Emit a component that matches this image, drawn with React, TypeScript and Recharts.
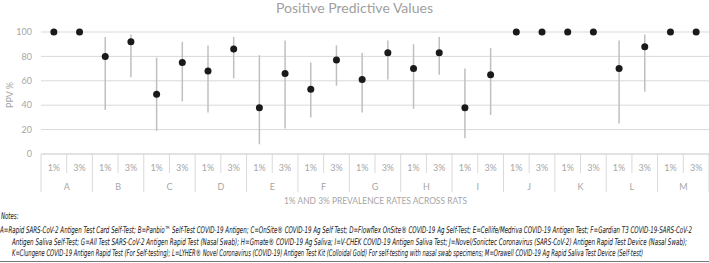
import { ComposedChart, Line, XAxis, YAxis, CartesianGrid, ErrorBar } from "recharts";

// groups (rapid antigen tests) and the two prevalence rates
const groups = ["A", "B", "C", "D", "E", "F", "G", "H", "I", "J", "K", "L", "M"];
const rates = ["1%", "3%"];

// PPV and the interval bounds, per group, at 1% and 3% prevalence
const ppvAt1 = [100, 80, 49, 68, 38, 53, 61, 70, 38, 100, 100, 70, 100];
const ppvAt3 = [100, 92, 75, 86, 66, 77, 83, 83, 65, 100, 100, 88, 100];
const lowAt1 = [100, 36, 19, 34, 8, 30, 34, 37, 13, 100, 100, 25, 100];
const lowAt3 = [100, 63, 43, 62, 21, 56, 61, 65, 32, 100, 100, 51, 100];
const highAt1 = [100, 96, 79, 89, 81, 75, 83, 90, 70, 100, 100, 93, 100];
const highAt3 = [100, 98, 92, 96, 93, 89, 93, 96, 87, 100, 100, 98, 100];

const yTicks = [0, 10, 20, 30, 40, 50, 60, 70, 80, 90, 100];

const noteLines = [
  "A=Rapid SARS-CoV-2 Antigen Test Card Self-Test; B=Panbio™ Self-Test COVID-19 Antigen; C=OnSite® COVID-19 Ag Self Test; D=Flowflex OnSite® COVID-19 Ag Self-Test; E=Cellife/Medriva COVID-19 Antigen Test; F=Gardian T3 COVID-19-SARS-CoV-2",
  "Antigen Saliva Self-Test; G=All Test SARS-CoV-2 Antigen Rapid Test (Nasal Swab); H=Gmate® COVID-19 Ag Saliva; I=V-CHEK COVID-19 Antigen Saliva Test; J=Novel/Sonictec Coronavirus (SARS-CoV-2) Antigen Rapid Test Device (Nasal Swab);",
  "K=Clungene COVID-19 Antigen Rapid Test (For Self-testing); L=LYHER® Novel Coronavirus (COVID-19) Antigen Test Kit (Colloidal Gold) For self-testing with nasal swab specimens; M=Orawell COVID-19 Ag Rapid Saliva Test Device (Self-test)",
];

// one row per group/rate, error given as [below, above] deltas
const rows = groups.flatMap((g, i) =>
  rates.map((r, j) => {
    const ppv = j === 0 ? ppvAt1[i] : ppvAt3[i];
    const lo = j === 0 ? lowAt1[i] : lowAt3[i];
    const hi = j === 0 ? highAt1[i] : highAt3[i];
    return { key: g + r, group: g, rate: r, ppv, err: [ppv - lo, hi - ppv] };
  })
);

const W = 709;
const H = 263;
const LEFT = 41;
const TOP = 32;
const AXIS_Y = 154;
const BAND = (W - LEFT) / rows.length;
const FONT = "Lato, 'Open Sans', sans-serif";
const GRID = "#d9d9d9";
const TXT = "#a6a6a6";
const NOTE_SY = 1.5; // notes are set small and stretched up to look condensed

function RateTick(props: any) {
  const { x, index } = props;
  const row = rows[index];
  if (!row) return null;
  const left = x - BAND / 2;
  const first = row.rate === "1%";
  return (
    <g>
      <line x1={left} x2={left} y1={AXIS_Y} y2={first ? AXIS_Y + 38 : AXIS_Y + 19} stroke={GRID} />
      {index === rows.length - 1 && (
        <line x1={x + BAND / 2} x2={x + BAND / 2} y1={AXIS_Y} y2={AXIS_Y + 38} stroke={GRID} />
      )}
      <text x={x} y={AXIS_Y + 17} textAnchor="middle" fontSize={9} fontFamily={FONT} fill={TXT}>
        {row.rate}
      </text>
      {!first && (
        <text x={left} y={AXIS_Y + 36} textAnchor="middle" fontSize={9} fontFamily={FONT} fill={TXT}>
          {row.group}
        </text>
      )}
    </g>
  );
}

export default function App() {
  const noteFont = "'Liberation Sans Narrow', 'DejaVu Sans Condensed', 'Roboto', sans-serif";
  const noteProps = {
    fontSize: 6.1,
    fontStyle: "italic",
    fontFamily: noteFont,
    fill: "#111",
    lengthAdjust: "spacingAndGlyphs",
  } as const;
  return (
    <div style={{ position: "relative", width: W, height: H, background: "#fff" }}>
      <style>{"body{margin:0}"}</style>
      <ComposedChart
        width={W}
        height={H}
        data={rows}
        margin={{ top: TOP, right: 0, left: 0, bottom: H - AXIS_Y - 40 }}
      >
        <CartesianGrid vertical={false} stroke={GRID} />
        <XAxis
          dataKey="key"
          interval={0}
          height={40}
          padding={{ left: BAND / 2, right: BAND / 2 }}
          axisLine={{ stroke: GRID }}
          tickLine={false}
          tick={<RateTick />}
        />
        <YAxis
          domain={[0, 100]}
          ticks={yTicks}
          width={LEFT}
          axisLine={false}
          tickLine={false}
          tickSize={0}
          tickMargin={9}
          tick={{ fill: TXT, fontSize: 9, fontFamily: FONT }}
        />
        <Line
          dataKey="ppv"
          stroke="none"
          dot={{ r: 3.5, fill: "#1a1a1a", stroke: "none" }}
          activeDot={false}
          isAnimationActive={false}
        >
          <ErrorBar dataKey="err" width={0} stroke="#bfbfbf" strokeWidth={1.5} direction="y" />
        </Line>
      </ComposedChart>

      {/* titles and notes */}
      <svg
        width={W}
        height={H}
        style={{ position: "absolute", left: 0, top: 0, pointerEvents: "none" }}
      >
        <text x={276} y={12.5} fontSize={14} fontFamily={FONT} fill="#a0a0a0" textLength={157} lengthAdjust="spacingAndGlyphs">
          Positive Predictive Values
        </text>
        <text
          transform="translate(13,95) rotate(-90)"
          textAnchor="middle"
          fontSize={9}
          fontFamily={FONT}
          fill={TXT}
        >
          PPV %
        </text>
        <text x={284} y={204} fontSize={9.3} fontFamily={FONT} fill={TXT} textLength={183} lengthAdjust="spacingAndGlyphs">
          1% AND 3% PREVALENCE RATES ACROSS RATS
        </text>
        <g transform={`scale(1,${NOTE_SY})`}>
          <text x={1} y={219 / NOTE_SY} {...noteProps} textLength={17.5}>
            Notes:
          </text>
          <text x={0} y={233 / NOTE_SY} {...noteProps} textLength={692}>
            {noteLines[0]}
          </text>
          <text x={12} y={245 / NOTE_SY} {...noteProps} textLength={675}>
            {noteLines[1]}
          </text>
          <text x={12} y={256.5 / NOTE_SY} {...noteProps} textLength={631}>
            {noteLines[2]}
          </text>
        </g>
        <line x1={0} x2={W} y1={261.5} y2={261.5} stroke="#777" strokeWidth={1} />
      </svg>
    </div>
  );
}
